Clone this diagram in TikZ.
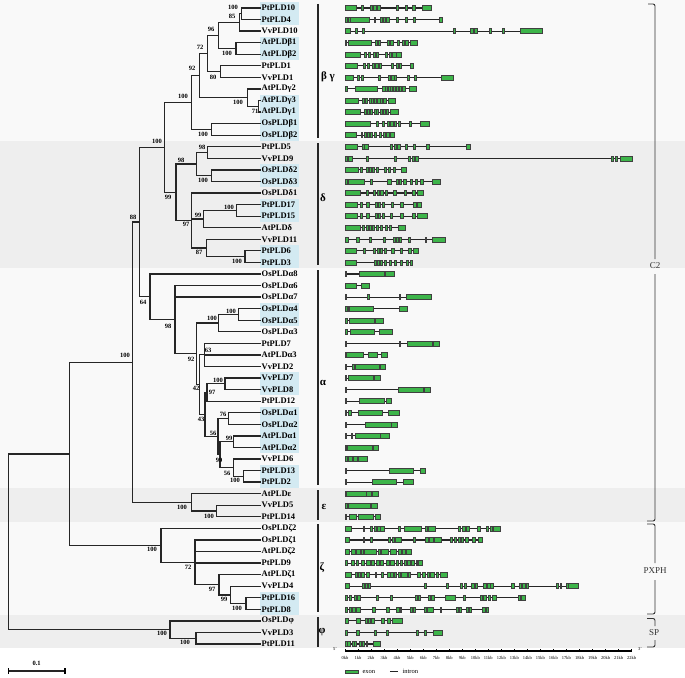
\documentclass[tikz,border=0pt]{standalone}
\usepackage{fontspec}
\setmainfont{Liberation Serif}
\usepackage{tikz}
\usepackage{xcolor}
\usetikzlibrary{positioning,calc}
\definecolor{hl}{HTML}{D3EAF2}
\definecolor{exonfill}{HTML}{3DB54A}
\definecolor{bandA}{HTML}{F9F9F9}
\definecolor{bandB}{HTML}{EEEEEE}

\begin{document}
\begin{tikzpicture}[
    x=1pt, y=-1pt,
    leaf/.style={anchor=west, inner sep=1.5pt, font=\fontsize{8.5}{9}\selectfont\bfseries},
    bs/.style={inner sep=0pt, font=\fontsize{6.5}{6.5}\selectfont\bfseries},
    branch/.style={line width=1.3pt, black!85, line cap=rect},
    grp/.style={line width=1.4pt, black!85},
    clade/.style={inner sep=0pt, font=\fontsize{11}{11}\selectfont\bfseries},
    side/.style={inner sep=0pt, black!80, font=\fontsize{9}{9}\selectfont},
    brace/.style={line width=0.9pt, black!80, rounded corners=2pt},
    exon/.style={draw=black!75, fill=exonfill, line width=0.45pt},
    intron/.style={line width=1.1pt, black!85},
    kb/.style={inner sep=0pt, font=\fontsize{4.5}{4.5}\selectfont},
    legtext/.style={inner sep=0pt, font=\fontsize{6.5}{6.5}\selectfont}
  ]
    \useasboundingbox (0,0) rectangle (685,677);

    \fill[bandA] (0,0) rectangle (685,141);
    \fill[bandB] (0,141) rectangle (685,268);
    \fill[bandA] (0,268) rectangle (685,488);
    \fill[bandB] (0,488) rectangle (685,522);
    \fill[bandA] (0,522) rectangle (685,615);
    \fill[bandB] (0,615) rectangle (685,648);

    \foreach \n/\t/\h [count=\i from 0] in {
      Pt10/PtPLD10/1, Pt4/PtPLD4/1, Vv10/VvPLD10/0, Atb1/AtPLDβ1/1, Atb2/AtPLDβ2/1,
      Pt1/PtPLD1/0, Vv1/VvPLD1/0, Atg2/AtPLDγ2/0, Atg3/AtPLDγ3/1, Atg1/AtPLDγ1/1,
      Osb1/OsPLDβ1/1, Osb2/OsPLDβ2/1,
      Pt5/PtPLD5/0, Vv9/VvPLD9/0, Osd2/OsPLDδ2/1, Osd3/OsPLDδ3/1, Osd1/OsPLDδ1/0,
      Pt17/PtPLD17/1, Pt15/PtPLD15/1, Atd/AtPLDδ/0, Vv11/VvPLD11/0, Pt6/PtPLD6/1, Pt3/PtPLD3/1,
      Osa8/OsPLDα8/0, Osa6/OsPLDα6/0, Osa7/OsPLDα7/0, Osa4/OsPLDα4/1, Osa5/OsPLDα5/1, Osa3/OsPLDα3/0,
      Pt7/PtPLD7/0, Ata3/AtPLDα3/0, Vv2/VvPLD2/0, Vv7/VvPLD7/1, Vv8/VvPLD8/1, Pt12/PtPLD12/0,
      Osa1/OsPLDα1/1, Osa2/OsPLDα2/1, Ata1/AtPLDα1/1, Ata2/AtPLDα2/1, Vv6/VvPLD6/0, Pt13/PtPLD13/1, Pt2/PtPLD2/1,
      Ate/AtPLDε/0, Vv5/VvPLD5/0, Pt14/PtPLD14/0,
      Osz2/OsPLDζ2/0, Osz1/OsPLDζ1/0, Atz2/AtPLDζ2/0, Pt9/PtPLD9/0, Atz1/AtPLDζ1/0, Vv4/VvPLD4/0,
      Pt16/PtPLD16/1, Pt8/PtPLD8/1,
      Osph/OsPLDφ/0, Vv3/VvPLD3/0, Pt11/PtPLD11/0}
    {
      \pgfmathsetmacro\ly{8+11.564*\i}
      \ifnum\h=1 \fill[hl] (260,\ly-5.78) rectangle (299,\ly+5.78); \fi
      \node[leaf] (\n) at (260,\ly) {\t};
    }

    \coordinate (pt10x4) at (241.7,13.8);
    \coordinate (n85) at (239.3,22.5);
    \coordinate (atb) at (236,48.5);
    \coordinate (n96) at (218.3,35.5);
    \coordinate (ptvv1) at (220.7,71.6);
    \coordinate (n72) at (207.3,53.5);
    \coordinate (atg31) at (258.7,106.3);
    \coordinate (atg) at (247.3,97.6);
    \coordinate (n92) at (199.3,75.6);
    \coordinate (osb) at (211.7,129.4);
    \coordinate (bg) at (191.7,102.5);
    \coordinate (ptvv59) at (207.3,152.6);
    \coordinate (osd23) at (211.7,175.7);
    \coordinate (n98) at (196.7,164.1);
    \coordinate (pt1715) at (236.7,210.4);
    \coordinate (n99) at (203.3,219);
    \coordinate (pt63) at (245,256.6);
    \coordinate (n87) at (206.7,248);
    \coordinate (n97) at (191.7,220.5);
    \coordinate (dl) at (176,192.3);
    \coordinate (n100) at (164.3,147.4);
    \coordinate (osa45) at (238.3,314.5);
    \coordinate (osa345) at (218.3,323);
    \coordinate (n63) at (204.3,354.8);
    \coordinate (vv78) at (225,383.8);
    \coordinate (n97a) at (207,392.4);
    \coordinate (osa12) at (228.3,418.5);
    \coordinate (ata12) at (233.3,441.6);
    \coordinate (pt132) at (243.3,476.3);
    \coordinate (n56b) at (233.3,467.6);
    \coordinate (n99b) at (220,454.6);
    \coordinate (n56a) at (218,436.5);
    \coordinate (n43) at (205,414.5);
    \coordinate (n42) at (199.5,384.6);
    \coordinate (n92b) at (196.7,353.8);
    \coordinate (n98b) at (175,319.6);
    \coordinate (n64) at (150,296.8);
    \coordinate (n88) at (139.3,222.1);
    \coordinate (vvpt514) at (216.7,511);
    \coordinate (ep) at (191.7,502.4);
    \coordinate (n133) at (132.7,362.3);
    \coordinate (pt168) at (246,603.5);
    \coordinate (n99d) at (230.7,594.9);
    \coordinate (n97c) at (219,584.7);
    \coordinate (n72c) at (195,562.4);
    \coordinate (ze) at (161,545.4);
    \coordinate (n69) at (69.3,453.9);
    \coordinate (vvpt311) at (196,638.2);
    \coordinate (ph) at (170,629.6);
    \coordinate (root) at (8.3,541.7);

    \foreach \p/\c in {pt10x4/Pt10, pt10x4/Pt4, n85/pt10x4, n85/Vv10, atb/Atb1, atb/Atb2,
      n96/n85, n96/atb, ptvv1/Pt1, ptvv1/Vv1, n72/n96, n72/ptvv1, atg31/Atg3, atg31/Atg1,
      atg/Atg2, atg/atg31, n92/n72, n92/atg, osb/Osb1, osb/Osb2, bg/n92, bg/osb,
      ptvv59/Pt5, ptvv59/Vv9, osd23/Osd2, osd23/Osd3, n98/ptvv59, n98/osd23,
      pt1715/Pt17, pt1715/Pt15, n99/pt1715, n99/Atd, pt63/Pt6, pt63/Pt3, n87/Vv11, n87/pt63,
      n97/Osd1, n97/n99, n97/n87, dl/n98, dl/n97, n100/bg, n100/dl,
      osa45/Osa4, osa45/Osa5, osa345/osa45, osa345/Osa3, n63/Pt7, n63/Ata3, n63/Vv2,
      vv78/Vv7, vv78/Vv8, n97a/vv78, n97a/Pt12, osa12/Osa1, osa12/Osa2, ata12/Ata1, ata12/Ata2,
      pt132/Pt13, pt132/Pt2, n56b/Vv6, n56b/pt132, n99b/ata12, n99b/n56b, n56a/osa12, n56a/n99b,
      n43/n97a, n43/n56a, n42/n63, n42/n43, n92b/osa345, n92b/n42,
      n98b/Osa6, n98b/Osa7, n98b/n92b, n64/Osa8, n64/n98b, n88/n100, n88/n64,
      vvpt514/Vv5, vvpt514/Pt14, ep/Ate, ep/vvpt514, n133/n88, n133/ep,
      pt168/Pt16, pt168/Pt8, n99d/Vv4, n99d/pt168, n97c/Atz1, n97c/n99d,
      n72c/Osz1, n72c/Atz2, n72c/Pt9, n72c/n97c, ze/Osz2, ze/n72c, n69/n133, n69/ze,
      vvpt311/Vv3, vvpt311/Pt11, ph/Osph, ph/vvpt311, root/n69, root/ph}
      \draw[branch] (\p) |- (\c);

    \foreach \x/\y/\v [count=\k] in {233/7/100, 232/16/85, 211/29/96, 227/53/100, 200/47/72,
      213/77/80, 192/68/92, 238/102/100, 255/111/71, 203/134/100, 183/96/100, 157/141/100,
      133/217/88, 202/147/98, 181/160/98, 203/180/100, 168/197/99, 229/207/100, 198/215/99,
      186/224/97, 199/252/87, 237/261/100, 143/302/64, 168/326/98, 231/311/100, 212/318/100,
      191/359/92, 208/350/63, 218/380/100, 196/388/42, 212/392/97, 201/419/43, 223/414/76,
      213/433/56, 229/438/99, 219/460/99, 227/473/56, 235/480/100, 182/507/100, 209/516/100,
      125/355/100, 152/549/100, 188/567/72, 212/589/97, 224/599/99, 237/608/100, 162/633/100,
      185/642/100}
      \node[bs] (bs\k) at (\x,\y) {\v};

    \draw[grp] (318,4) -- (318,138);
    \draw[grp] (318,143) -- (318,265);
    \draw[grp] (318,270) -- (318,485);
    \draw[grp] (318,490) -- (318,520);
    \draw[grp] (318,524) -- (318,612);
    \draw[grp] (318,617) -- (318,647);
    \node[clade] (gbg) at (328,77) {β γ};
    \node[clade] (gd) at (323,198) {δ};
    \node[clade] (ga) at (323,383) {α};
    \node[clade] (ge) at (324,507) {ε};
    \node[clade] (gz) at (322,568) {ζ};
    \node[clade] (gp) at (322,632) {φ};

    \begin{scope}[shift={(330,0)}, x=0.3333pt]
      \foreach \row/\gend/\exl in {
        0/305/{45/80,95/100,120/127,131/138,141/150,198/204,226/233,248/255,277/305},
        1/338/{45/52,54/60,62/118,132/136,150/156,160/166,170/178,198/205,226/233,250/257,328/338},
        2/637/{45/60,75/82,97/104,370/377,422/430,432/443,478/485,516/523,572/637},
        3/262/{45/50,55/125,137/142,146/152,172/178,182/190,203/208,218/224,226/235,240/262},
        4/213/{45/90,104/110,114/120,130/136,140/146,167/173,177/185,188/198,200/213},
        5/250/{45/82,100/106,112/118,127/133,137/144,148/155,184/190,198/204,208/215,240/250},
        6/370/{45/70,82/88,93/100,145/151,176/182,185/192,194/200,232/238,252/258,333/370},
        7/260/{45/53,75/143,158/165,167/172,174/180,182/188,190/197,200/206,208/215,218/226,238/260},
        8/197/{45/85,97/103,107/113,117/123,125/131,134/140,143/150,152/158,160/168,175/197},
        9/204/{45/92,102/108,112/118,122/128,132/138,140/146,150/156,160/166,170/176,182/204},
        10/298/{45/120,140/145,158/163,172/178,182/190,194/200,204/210,238/245,270/298},
        11/193/{45/80,93/98,102/108,112/118,122/128,132/140,148/155,160/166,170/177,180/193},
        12/420/{45/82,98/102,104/115,182/188,194/200,203/210,226/233,250/257,288/297,410/420},
        13/907/{45/52,56/68,110/116,192/199,235/242,246/252,255/264,843/850,855/862,872/907},
        14/228/{45/85,90/96,108/114,118/124,128/134,138/146,162/168,175/182,190/196,215/228},
        15/332/{45/52,55/102,122/128,172/183,198/205,208/215,220/228,240/247,255/262,272/280,306/332},
        16/280/{45/92,108/114,130/137,141/147,152/160,165/172,190/198,222/230,248/256,262/280},
        17/275/{45/82,92/97,108/117,135/142,146/152,156/162,183/190,212/219,250/258,262/275},
        18/292/{45/82,92/97,108/117,135/142,146/152,156/162,180/187,212/219,248/256,262/292},
        19/226/{45/92,96/102,108/115,118/125,128/134,138/145,150/158,165/172,178/185,205/226},
        20/345/{45/55,80/88,118/125,160/166,190/197,200/206,208/215,235/242,285/290,306/345},
        21/266/{45/80,100/106,130/137,141/147,151/157,162/168,185/192,210/218,235/245,250/266},
        22/248/{45/80,132/138,142/148,150/158,162/168,178/184,194/200,210/216,228/236,240/248},
        23/192/{45/48,88/163,165/192},
        24/118/{45/78,95/118},
        25/303/{45/48,113/117,207/211,230/303},
        26/233/{45/52,55/58,58/130,207/233},
        27/160/{45/53,58/133,135/160},
        28/187/{45/53,60/133,148/187},
        29/328/{45/48,207/210,233/307,310/328},
        30/173/{45/48,48/100,115/142,155/173},
        31/166/{45/48,68/72,75/147,150/166},
        32/151/{45/50,55/130,133/151},
        33/300/{45/48,205/280,283/300},
        34/184/{45/48,88/163,168/184},
        35/207/{45/50,55/65,85/158,175/207},
        36/201/{45/48,105/183,185/201},
        37/178/{45/48,65/68,75/150,152/178},
        38/146/{45/50,53/128,130/146},
        39/112/{45/52,55/68,70/82,85/112},
        40/287/{45/48,178/250,270/287},
        41/249/{45/48,127/200,220/249},
        42/146/{45/50,50/108,110/125,128/146},
        43/143/{45/52,55/122,125/143},
        44/151/{45/48,58/78,84/130,135/151},
        45/512/{45/65,100/104,122/128,132/138,142/150,152/162,205/212,222/275,285/292,295/315,385/392,398/406,410/418,442/450,470/476,480/488,490/512},
        46/458/{45/57,100/104,122/126,175/182,186/192,196/214,250/256,286/294,298/310,312/335,360/366,372/380,384/390,394/400,405/414,428/436,445/458},
        47/245/{45/57,65/75,80/90,93/100,103/140,145/152,155/175,180/200,205/215,218/225,228/245},
        48/276/{45/52,65/72,78/85,95/102,110/120,124/132,138/148,152/160,168/177,180/192,198/205,210/218,222/228,232/240,244/252,258/262,265/276},
        49/352/{45/65,75/82,85/92,95/102,110/118,135/140,155/160,172/180,182/190,192/200,205/212,215/232,236/242,262/272,278/285,292/298,302/312,318/325,330/352},
        50/745/{45/57,96/103,106/113,115/122,282/290,350/356,390/398,402/410,425/432,435/442,460/468,472/480,482/490,545/552,567/575,578/585,590/594,680/685,690/695,710/715,715/745},
        51/585/{45/52,57/65,72/80,82/92,138/145,180/187,255/263,265/270,295/302,305/313,345/377,400/407,450/457,460/470,475/482,488/498,565/572,574/585},
        52/475/{45/52,58/64,68/75,78/92,128/136,170/178,200/207,210/215,240/248,250/255,282/290,292/310,330/335,378/385,388/395,408/415,418/425,458/465,468/475},
        53/218/{45/55,80/90,106/112,115/120,125/132,155/162,173/180,187/218},
        54/337/{45/52,80/88,132/138,168/175,258/265,282/290,310/337},
        55/150/{45/51,53/60,66/72,74/80,88/94,98/104,108/112,130/150}}
      {
        \pgfmathsetmacro\gy{8+11.564*\row}
        \draw[intron] (45,\gy) -- (\gend,\gy);
        \foreach \ea/\eb in \exl
          \draw[exon] (\ea,\gy-2.5) rectangle (\eb,\gy+2.5);
      }

      \draw[line width=1.4pt] (45,651) -- (905,651);
      \foreach \tk in {0,...,22} {
        \draw[line width=0.5pt] ({45+39.09*\tk},651) -- ++(0,-2.2);
        \node[kb] (kb\tk) at ({45+39.09*\tk},657.5) {\tk kb};
      }
      \node[kb] (five) at (15,649) {5'};
      \node[kb] (three) at (930,649) {3'};

      \node[exon, minimum width=13pt, minimum height=3.5pt, inner sep=0pt] (exbox) at (65,671.7) {};
      \node[legtext, right=4pt of exbox] (extx) {exon};
      \coordinate (intl) at (180,671.7);
      \coordinate (intr) at (205,671.7);
      \draw[intron, line width=1.3pt] (intl) -- (intr);
      \node[legtext, right=4pt of intr] (intx) {intron};
    \end{scope}

    \draw[brace] (648,4) -- (655,4) -- (655,259);
    \draw[brace] (655,274) -- (655,521) -- (647,521);
    \node[side] (c2) at (655,266) {C2};
    \draw[brace] (647,524) -- (655,524) -- (655,563);
    \draw[brace] (655,580) -- (655,614) -- (647,614);
    \node[side] (pxph) at (655,571) {PXPH};
    \draw[brace] (647,618.5) -- (655,618.5) -- (655,626);
    \draw[brace] (655,640) -- (655,647) -- (647,647);
    \node[side] (sp) at (654,633) {SP};

    \coordinate (sbl) at (8.3,671);
    \coordinate (sbr) at (65,671);
    \draw[branch] (sbl) -- (sbr);
    \draw[line width=1.2pt] ($(sbl)+(0,-3)$) -- ($(sbl)+(0,3)$);
    \draw[line width=1.2pt] ($(sbr)+(0,-3)$) -- ($(sbr)+(0,3)$);
    \node[bs, above=5pt] (sblab) at ($(sbl)!0.5!(sbr)$) {0.1};
  \end{tikzpicture}
\end{document}
